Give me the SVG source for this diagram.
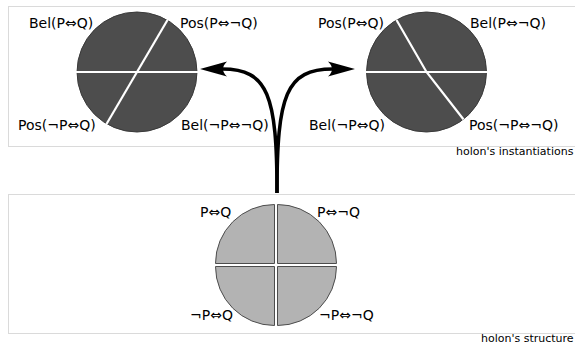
<svg xmlns="http://www.w3.org/2000/svg" width="575" height="347" viewBox="0 0 575 347">
<style>
.frame{fill:none;stroke:#b5b5b5;stroke-width:1;stroke-dasharray:1,1}
.lbl{font-family:"DejaVu Sans",Verdana,sans-serif;font-size:14px;fill:#000}
.cap{font-family:"DejaVu Sans",Verdana,sans-serif;font-size:11px;fill:#000}
.dark{fill:#4d4d4d;stroke:#3a3a3a;stroke-width:1}
.gap{stroke:#fff;stroke-width:2.2;fill:none}
.quad{fill:#b3b3b3;stroke:#4d4d4d;stroke-width:1}
.arrow{fill:none;stroke:#000;stroke-width:3.5}
</style>
<defs>
<marker id="ah" markerUnits="userSpaceOnUse" markerWidth="30" markerHeight="20" refX="5" refY="8" orient="auto" overflow="visible">
<path d="M27,8 L0,0.5 Q8,8 0,15.5 Z" fill="#000"/>
</marker>
</defs>
<rect class="frame" x="8.5" y="6.5" width="580" height="140"/>
<rect class="frame" x="8.5" y="194.5" width="580" height="139"/>
<text class="cap" x="456" y="155">holon's instantiations</text>
<text class="cap" x="481" y="342">holon's structure</text>

<g id="instantiation-left">
<circle class="dark" cx="137" cy="72" r="60"/>
<line class="gap" x1="76" y1="72" x2="198" y2="72"/>
<line class="gap" x1="167.5" y1="20" x2="106.5" y2="124"/>
<text class="lbl" x="29" y="27.5">Bel(P⇔Q)</text>
<text class="lbl" x="180" y="27.5">Pos(P⇔¬Q)</text>
<text class="lbl" x="18" y="130">Pos(¬P⇔Q)</text>
<text class="lbl" x="181" y="130">Bel(¬P⇔¬Q)</text>
</g>

<g id="instantiation-right">
<circle class="dark" cx="426.5" cy="72" r="60"/>
<line class="gap" x1="365.5" y1="72" x2="487.5" y2="72"/>
<polyline class="gap" points="396.5,20 426.5,72 463.4,119.3"/>
<text class="lbl" x="318" y="27.5">Pos(P⇔Q)</text>
<text class="lbl" x="470" y="27.5">Bel(P⇔¬Q)</text>
<text class="lbl" x="309" y="130">Bel(¬P⇔Q)</text>
<text class="lbl" x="469" y="130">Pos(¬P⇔¬Q)</text>
</g>

<g id="structure">
<path class="quad" d="M274.5,263.5 L215.5,263.5 A59,59 0 0 1 274.5,204.5 Z"/>
<path class="quad" d="M277.5,263.5 L277.5,204.5 A59,59 0 0 1 336.5,263.5 Z"/>
<path class="quad" d="M274.5,266.5 L274.5,325.5 A59,59 0 0 1 215.5,266.5 Z"/>
<path class="quad" d="M277.5,266.5 L336.5,266.5 A59,59 0 0 1 277.5,325.5 Z"/>
<text class="lbl" x="200" y="217">P⇔Q</text>
<text class="lbl" x="317" y="217">P⇔¬Q</text>
<text class="lbl" x="190" y="320">¬P⇔Q</text>
<text class="lbl" x="319" y="320">¬P⇔¬Q</text>
</g>

<g id="connectors">
<path class="arrow" d="M277,193 C277,95 268,69 222,69" marker-end="url(#ah)"/>
<path class="arrow" d="M277,193 C277,95 286,69 333,69" marker-end="url(#ah)"/>
</g>
</svg>
